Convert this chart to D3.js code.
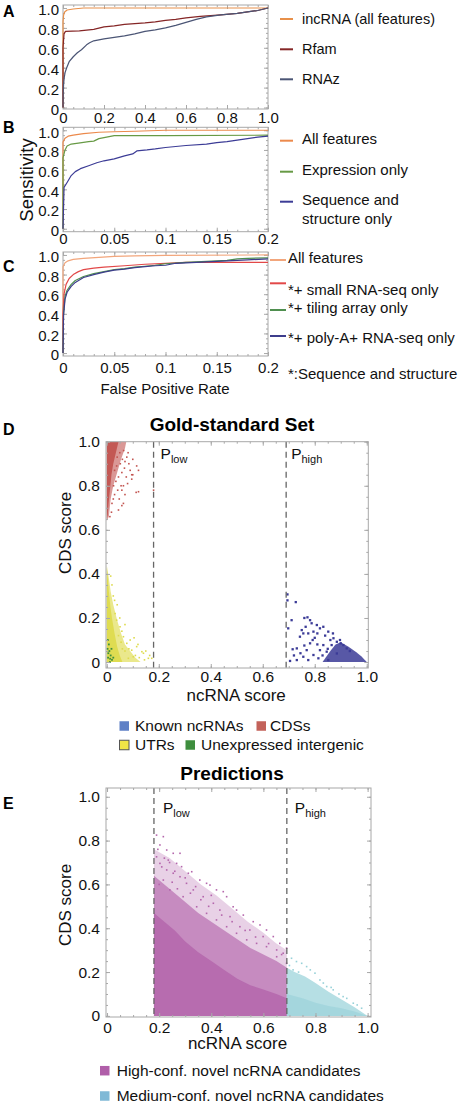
<!DOCTYPE html>
<html><head><meta charset="utf-8">
<script src="https://cdn.jsdelivr.net/npm/d3@7"></script>
<style>
body{margin:0;background:#fff;}
svg{display:block;font-family:"Liberation Sans",Arial,Helvetica,sans-serif;}
</style></head><body>
<svg id="fig" width="465" height="1103"></svg>
<script>
// ---------------- DATA ----------------
const Y_TICKS = [0, 0.2, 0.4, 0.6, 0.8, 1.0];
const Y_LABELS = ["0", "0.2", "0.4", "0.6", "0.8", "1.0"];
const X_TICKS_A = [0, 0.2, 0.4, 0.6, 0.8, 1.0];
const X_LABELS_A = ["0", "0.2", "0.4", "0.6", "0.8", "1.0"];
const X_TICKS_BC = [0, 0.05, 0.1, 0.15, 0.2];
const X_LABELS_BC = ["0", "0.05", "0.1", "0.15", "0.2"];

// Panel A (FPR, sensitivity)
const rocA_incRNA = [[0,0],[0,0.86],[0.003,0.93],[0.008,0.96],[0.02,0.98],[0.05,0.99],[0.1,1.0],[1.0,1.0]];
const rocA_Rfam = [[0,0],[0,0.6],[0.005,0.74],[0.012,0.765],[0.08,0.77],[0.15,0.785],[0.2,0.81],[0.25,0.82],[0.3,0.835],[0.4,0.85],[0.45,0.86],[0.5,0.875],[0.55,0.885],[0.6,0.9],[0.67,0.915],[0.77,0.93],[0.85,0.945],[0.9,0.96],[0.95,0.975],[1.0,1.0]];
const rocA_RNAz = [[0,0],[0.001,0.15],[0.003,0.24],[0.006,0.3],[0.01,0.35],[0.018,0.4],[0.03,0.46],[0.05,0.51],[0.07,0.55],[0.09,0.58],[0.115,0.63],[0.13,0.65],[0.15,0.67],[0.2,0.69],[0.25,0.705],[0.3,0.72],[0.35,0.74],[0.4,0.765],[0.45,0.78],[0.5,0.8],[0.55,0.825],[0.6,0.855],[0.65,0.885],[0.7,0.91],[0.77,0.93],[0.85,0.945],[0.9,0.96],[0.95,0.975],[1.0,1.0]];
const namesA = ["incRNA (all features)", "Rfam", "RNAz"];

// Panel B
const rocB_all = [[0,0],[0,0.88],[0.002,0.92],[0.005,0.94],[0.01,0.95],[0.02,0.965],[0.035,0.98],[0.05,0.985],[0.07,0.99],[0.1,1.0],[0.2,1.0]];
const rocB_expr = [[0,0],[0,0.72],[0.002,0.8],[0.004,0.84],[0.008,0.86],[0.015,0.87],[0.025,0.885],[0.03,0.89],[0.035,0.915],[0.045,0.935],[0.05,0.945],[0.1,0.945],[0.2,0.95]];
const rocB_seq = [[0,0],[0.001,0.42],[0.004,0.47],[0.008,0.54],[0.012,0.58],[0.017,0.61],[0.025,0.64],[0.033,0.67],[0.04,0.69],[0.05,0.71],[0.06,0.74],[0.068,0.76],[0.072,0.79],[0.082,0.8],[0.09,0.81],[0.1,0.825],[0.12,0.845],[0.14,0.86],[0.15,0.875],[0.16,0.885],[0.17,0.9],[0.18,0.915],[0.19,0.93],[0.2,0.94]];
const namesB = [["All features"], ["Expression only"], ["Sequence and", "structure only"]];

// Panel C
const rocC_all = [[0,0],[0,0.88],[0.002,0.92],[0.005,0.94],[0.01,0.955],[0.02,0.965],[0.035,0.975],[0.05,0.985],[0.07,0.99],[0.1,0.995],[0.2,1.0]];
const rocC_small = [[0,0],[0,0.4],[0.001,0.6],[0.003,0.7],[0.006,0.76],[0.01,0.8],[0.015,0.83],[0.02,0.85],[0.03,0.865],[0.04,0.875],[0.06,0.89],[0.08,0.905],[0.1,0.915],[0.12,0.925],[0.2,0.925]];
const rocC_tiling = [[0,0],[0.0005,0.4],[0.002,0.58],[0.004,0.64],[0.008,0.7],[0.012,0.74],[0.02,0.78],[0.03,0.81],[0.04,0.83],[0.05,0.85],[0.06,0.86],[0.07,0.875],[0.08,0.885],[0.09,0.895],[0.1,0.91],[0.12,0.925],[0.14,0.935],[0.16,0.945],[0.17,0.96],[0.18,0.965],[0.2,0.97]];
const rocC_polyA = [[0,0],[0.0005,0.38],[0.002,0.55],[0.004,0.62],[0.008,0.68],[0.012,0.72],[0.02,0.77],[0.03,0.8],[0.04,0.825],[0.05,0.845],[0.06,0.855],[0.07,0.87],[0.08,0.88],[0.09,0.89],[0.1,0.895],[0.11,0.915],[0.12,0.92],[0.14,0.93],[0.16,0.94],[0.18,0.95],[0.2,0.96]];
const namesC = ["All features", "*+ small RNA-seq only", "*+ tiling array only", "*+ poly-A+ RNA-seq only"];
const noteC = "*:Sequence and structure";

// Thresholds
const P_LOW = 0.18, P_HIGH = 0.69;

// Panel D: gold-standard set (ncRNA score, CDS score)
const cdsCore = [[0,0.65],[0.004,0.67],[0.007,0.72],[0.012,0.78],[0.018,0.85],[0.025,0.9],[0.035,0.95],[0.045,1.0],[0,1.0]];
const cdsHalo = [[0,0.64],[0.008,0.66],[0.015,0.74],[0.025,0.8],[0.04,0.86],[0.055,0.92],[0.07,0.97],[0.075,1.0],[0,1.0]];
const cdsPoints = [[0.115,0.89],[0.122,0.87],[0.113,0.77],[0.07,0.76],[0.064,0.72],[0.096,0.83],[0.077,0.93],[0.038,0.89],[0.058,0.86],[0.026,0.8],[0.085,0.9],[0.09,0.87],[0.1,0.85],[0.05,0.95],[0.06,0.92],[0.045,0.84],[0.03,0.76],[0.02,0.72],[0.035,0.82],[0.068,0.88],[0.075,0.84],[0.055,0.8],[0.042,0.78],[0.08,0.81],[0.065,0.96],[0.07,0.91],[0.052,0.9],[0.04,0.93],[0.03,0.87],[0.082,0.95],[0.018,0.68],[0.012,0.66],[0.025,0.74],[0.18,0.78],[0.1,0.92],[0.058,0.78],[0.048,0.74],[0.122,0.773],[0.096,0.85],[0.064,0.8],[0.045,0.69],[0.058,0.71]];
const utrCore = [[0,0.43],[0.004,0.38],[0.008,0.32],[0.014,0.25],[0.02,0.2],[0.03,0.13],[0.04,0.07],[0.05,0.03],[0.06,0],[0,0]];
const utrHalo = [[0,0.44],[0.008,0.38],[0.015,0.32],[0.025,0.26],[0.04,0.19],[0.055,0.13],[0.07,0.08],[0.09,0.05],[0.11,0.02],[0.13,0],[0,0]];
const utrPoints = [[0.064,0.115],[0.077,0.085],[0.096,0.054],[0.115,0.07],[0.135,0.047],[0.141,0.04],[0.16,0.017],[0.173,0.017],[0.102,0.024],[0.083,0.017],[0.051,0.16],[0.038,0.19],[0.058,0.14],[0.07,0.17],[0.032,0.22],[0.045,0.12],[0.055,0.09],[0.09,0.1],[0.11,0.03],[0.125,0.02],[0.15,0.05],[0.07,0.05],[0.06,0.06],[0.085,0.06],[0.04,0.26],[0.025,0.3],[0.02,0.35],[0.015,0.39],[0.05,0.2],[0.03,0.28],[0.12,0.08],[0.105,0.11],[0.145,0.01],[0.165,0.03]];
const unexprPoints = [[0.005,0.02],[0.01,0.05],[0.015,0.03],[0.008,0.08],[0.02,0.01],[0.012,0.0],[0.004,0.1],[0.018,0.06],[0.025,0.02],[0.006,0.04],[0.003,0.06],[0.013,0.015]];
const knownCore = [[0.83,0],[0.86,0.05],[0.88,0.08],[0.9,0.09],[0.93,0.07],[0.96,0.045],[0.98,0.025],[1.0,0]];
const knownPoints = [[0.695,0.307],[0.695,0.28],[0.727,0.272],[0.711,0.19],[0.698,0.153],[0.715,0.058],[0.731,0.062],[0.772,0.203],[0.782,0.19],[0.788,0.176],[0.808,0.168],[0.82,0.153],[0.833,0.16],[0.852,0.138],[0.75,0.145],[0.756,0.13],[0.743,0.115],[0.795,0.138],[0.792,0.1],[0.782,0.085],[0.769,0.054],[0.756,0.024],[0.731,0.009],[0.795,0.032],[0.82,0.054],[0.833,0.077],[0.872,0.108],[0.885,0.092],[0.897,0.1],[0.865,0.077],[0.846,0.047],[0.814,0.017],[0.775,0.009],[0.91,0.077],[0.923,0.062],[0.885,0.039],[0.852,0.009],[0.935,0.05],[0.76,0.2],[0.8,0.11],[0.81,0.08],[0.84,0.12],[0.86,0.1],[0.87,0.13],[0.9,0.085],[0.705,0.005],[0.72,0.03],[0.745,0.04],[0.765,0.16],[0.83,0.03],[0.85,0.06],[0.81,0.13],[0.775,0.13],[0.76,0.075]];
const namesD = ["Known ncRNAs", "CDSs", "UTRs", "Unexpressed intergenic"];

// Panel E: predictions
const highCore = [[0.18,0.47],[0.22,0.43],[0.26,0.39],[0.3,0.34],[0.35,0.29],[0.4,0.25],[0.45,0.21],[0.5,0.17],[0.55,0.14],[0.6,0.12],[0.65,0.1],[0.69,0.08],[0.69,0],[0.18,0]];
const highHalo = [[0.18,0.64],[0.22,0.6],[0.26,0.56],[0.3,0.52],[0.35,0.47],[0.4,0.43],[0.45,0.39],[0.5,0.35],[0.55,0.31],[0.6,0.28],[0.65,0.25],[0.69,0.22],[0.69,0],[0.18,0]];
const highSparse = [[0.18,0.76],[0.24,0.72],[0.3,0.66],[0.36,0.6],[0.42,0.55],[0.48,0.49],[0.54,0.43],[0.6,0.38],[0.65,0.33],[0.69,0.3],[0.69,0],[0.18,0]];
const highPoints = [[0.19,0.825],[0.216,0.818],[0.203,0.78],[0.229,0.757],[0.254,0.742],[0.28,0.742],[0.235,0.711],[0.267,0.696],[0.286,0.681],[0.312,0.651],[0.325,0.658],[0.356,0.62],[0.382,0.605],[0.395,0.597],[0.42,0.575],[0.446,0.567],[0.459,0.544],[0.484,0.498],[0.497,0.483],[0.523,0.46],[0.561,0.43],[0.587,0.415],[0.612,0.392],[0.638,0.362],[0.663,0.331],[0.689,0.309],[0.676,0.286],[0.651,0.301],[0.599,0.362],[0.548,0.392],[0.51,0.407],[0.472,0.453],[0.433,0.483],[0.408,0.514],[0.369,0.544],[0.331,0.575],[0.305,0.605],[0.28,0.635],[0.254,0.651],[0.229,0.666],[0.203,0.696],[0.216,0.62],[0.19,0.726],[0.241,0.575],[0.292,0.544],[0.344,0.498],[0.382,0.468],[0.42,0.438],[0.459,0.407],[0.497,0.377],[0.536,0.347],[0.574,0.331],[0.612,0.316],[0.651,0.27],[0.689,0.24],[0.2,0.6],[0.21,0.68],[0.25,0.61],[0.27,0.58],[0.32,0.56],[0.36,0.53],[0.39,0.5],[0.44,0.46],[0.48,0.43],[0.53,0.39],[0.57,0.36],[0.62,0.33],[0.67,0.28],[0.195,0.76],[0.24,0.7],[0.3,0.63],[0.34,0.59],[0.4,0.55],[0.26,0.66],[0.22,0.72]];
const medDense = [[0.69,0.1],[0.75,0.08],[0.8,0.06],[0.85,0.045],[0.9,0.035],[0.95,0.02],[1.0,0],[0.69,0]];
const medHalo = [[0.69,0.22],[0.72,0.2],[0.76,0.18],[0.8,0.15],[0.85,0.11],[0.9,0.075],[0.95,0.04],[1.0,0],[0.69,0]];
const medPoints = [[0.708,0.263],[0.727,0.248],[0.747,0.24],[0.766,0.225],[0.714,0.21],[0.798,0.195],[0.817,0.164],[0.843,0.134],[0.868,0.119],[0.906,0.088],[0.945,0.058],[0.977,0.035],[0.7,0.23],[0.735,0.2],[0.78,0.21],[0.83,0.15],[0.86,0.13],[0.89,0.1],[0.92,0.08],[0.96,0.05]];
const namesE = ["High-conf. novel ncRNA candidates", "Medium-conf. novel ncRNA candidates"];

// ---------------- DRAWING ----------------
const svg = d3.select("#fig");
const defs = svg.append("defs");
const FRAME = "#a8a8a8";
const TXT = "#111";

function frameAxes(g, x, y, o) {
  const [x0, x1] = x.range(), [y0, y1] = y.range();
  g.append("rect").attr("x", x0).attr("y", y1).attr("width", x1 - x0).attr("height", y0 - y1)
    .attr("fill", "none").attr("stroke", FRAME).attr("stroke-width", 1);
  const style = (sel, fs) => {
    sel.select(".domain").remove();
    sel.selectAll(".tick line").attr("stroke", FRAME);
    sel.selectAll(".tick text").attr("fill", TXT).style("font-size", fs + "px");
  };
  const mk = (axis, tr) => g.append("g").attr("transform", tr).call(axis).call(s => style(s, o.fs));
  mk(d3.axisBottom(x).tickValues(o.xMinor).tickSize(-2).tickFormat(""), `translate(0,${y0})`);
  mk(d3.axisTop(x).tickValues(o.xMinor).tickSize(-2).tickFormat(""), `translate(0,${y1})`);
  mk(d3.axisLeft(y).tickValues(o.yMinor).tickSize(-2).tickFormat(""), `translate(${x0},0)`);
  mk(d3.axisRight(y).tickValues(o.yMinor).tickSize(-2).tickFormat(""), `translate(${x1},0)`);
  mk(d3.axisTop(x).tickValues(o.xTicks).tickSize(-4).tickFormat(""), `translate(0,${y1})`);
  mk(d3.axisRight(y).tickValues(o.yTicks).tickSize(-4).tickFormat(""), `translate(${x1},0)`);
  mk(d3.axisBottom(x).tickValues(o.xTicks).tickSize(-4).tickPadding(o.xPad)
      .tickFormat((d, i) => o.xLabels[i]), `translate(0,${y0})`);
  const yl = mk(d3.axisLeft(y).tickValues(o.yTicks).tickSize(-4).tickPadding(o.yPad)
      .tickFormat((d, i) => o.yLabels[i]), `translate(${x0},0)`);
  if (o.yDy) yl.selectAll(".tick text").attr("dy", o.yDy);
}

function letter(t, x, y) {
  svg.append("text").attr("x", x).attr("y", y).text(t).attr("font-weight", "bold")
    .style("font-size", "16px").attr("fill", "#000");
}

// ---------- ROC panels ----------
function rocPanel(cfg) {
  const g = svg.append("g");
  const x = d3.scaleLinear().domain(cfg.xDomain).range(cfg.xRange);
  const y = d3.scaleLinear().domain(cfg.yDomain).range(cfg.yRange);
  frameAxes(g, x, y, {
    xTicks: cfg.xTicks, xLabels: cfg.xLabels, yTicks: Y_TICKS, yLabels: Y_LABELS,
    xMinor: cfg.xMinor, yMinor: d3.range(0, 1.001, 0.05), fs: 15, xPad: cfg.xPad, yPad: 4, yDy: "0.45em"
  });
  const line = d3.line().x(d => x(d[0])).y(d => y(d[1]));
  cfg.series.forEach((s, i) => {
    g.append("path").datum(s).attr("d", line).attr("fill", "none")
      .attr("stroke", cfg.colors[i]).attr("stroke-width", 1.2).attr("stroke-linejoin", "round");
  });
  cfg.legend.forEach((it, i) => {
    g.append("line").attr("x1", cfg.swX[0]).attr("x2", cfg.swX[1]).attr("y1", it.sy).attr("y2", it.sy)
      .attr("stroke", cfg.colors[i]).attr("stroke-width", 2);
    const lines = Array.isArray(cfg.names[i]) ? cfg.names[i] : [cfg.names[i]];
    lines.forEach((tx, j) => {
      g.append("text").attr("x", cfg.txX).attr("y", it.ty[j]).attr("dy", "0.35em").text(tx)
        .style("font-size", cfg.lfs + "px").attr("fill", TXT);
    });
  });
  return g;
}

rocPanel({
  xDomain: [0, 1], xRange: [63, 268], yDomain: [-0.015, 1.03], yRange: [109, 5],
  xTicks: X_TICKS_A, xLabels: X_LABELS_A, xMinor: d3.range(0, 1.001, 0.05), xPad: 3,
  series: [rocA_incRNA, rocA_Rfam, rocA_RNAz], colors: ["#e8904a", "#852626", "#4b5575"],
  names: namesA, swX: [280, 293], txX: 302, lfs: 14.5,
  legend: [{sy: 19, ty: [18.7]}, {sy: 49.3, ty: [49]}, {sy: 79.3, ty: [79]}]
});
letter("A", 3, 17);

rocPanel({
  xDomain: [0, 0.2], xRange: [63, 268], yDomain: [-0.03, 1.03], yRange: [231.7, 127.3],
  xTicks: X_TICKS_BC, xLabels: X_LABELS_BC, xMinor: d3.range(0, 0.2001, 0.01), xPad: 2,
  series: [rocB_all, rocB_expr, rocB_seq], colors: ["#ec8a4c", "#679a45", "#3c3c96"],
  names: namesB, swX: [280, 293], txX: 302, lfs: 15,
  legend: [{sy: 140.7, ty: [139]}, {sy: 171.7, ty: [170]}, {sy: 201.7, ty: [199.3, 218.7]}]
});
letter("B", 3, 133);
svg.append("text").attr("transform", "translate(27,180) rotate(-90)").attr("text-anchor", "middle")
  .attr("dy", "0.35em").text("Sensitivity").style("font-size", "18.5px").attr("fill", TXT);

const gC = rocPanel({
  xDomain: [0, 0.2], xRange: [63, 268], yDomain: [-0.03, 1.03], yRange: [356, 252],
  xTicks: X_TICKS_BC, xLabels: X_LABELS_BC, xMinor: d3.range(0, 0.2001, 0.01), xPad: 6,
  series: [rocC_all, rocC_small, rocC_tiling, rocC_polyA], colors: ["#f2a67c", "#e24848", "#4f8f4f", "#3d3d8c"],
  names: namesC, swX: [270, 286], txX: 288, lfs: 15,
  legend: [{sy: 260, ty: [257.3]}, {sy: 283.3, ty: [289.3]}, {sy: 310, ty: [307.3]}, {sy: 336, ty: [337.3]}]
});
gC.append("text").attr("x", 288).attr("y", 374).attr("dy", "0.35em").text(noteC)
  .style("font-size", "15px").attr("fill", TXT);
letter("C", 3, 272);
svg.append("text").attr("x", 165).attr("y", 388.5).attr("dy", "0.35em").attr("text-anchor", "middle")
  .text("False Positive Rate").style("font-size", "15px").attr("fill", TXT);

// ---------- Scatter panels ----------
function scatterPanel(cfg) {
  const g = svg.append("g");
  const x = d3.scaleLinear().domain(cfg.xDomain).range(cfg.xRange);
  const y = d3.scaleLinear().domain(cfg.yDomain).range(cfg.yRange);
  const poly = d3.line().x(d => x(d[0])).y(d => y(d[1])).curve(d3.curveLinearClosed);
  const clip = cfg.id + "clip";
  defs.append("clipPath").attr("id", clip).append("rect")
    .attr("x", cfg.xRange[0]).attr("y", cfg.yRange[1])
    .attr("width", cfg.xRange[1] - cfg.xRange[0]).attr("height", cfg.yRange[0] - cfg.yRange[1]);
  const pg = g.append("g").attr("clip-path", `url(#${clip})`);
  cfg.layers.forEach(L => {
    if (L.poly) pg.append("path").datum(L.poly).attr("d", poly).attr("fill", L.fill)
      .attr("fill-opacity", L.op == null ? 1 : L.op);
    if (L.pts) pg.selectAll(null).data(L.pts).join("rect")
      .attr("x", d => x(d[0]) - L.s / 2).attr("y", d => y(d[1]) - L.s / 2)
      .attr("width", L.s).attr("height", L.s).attr("fill", L.fill);
  });
  [P_LOW, P_HIGH].forEach(v => {
    g.append("line").attr("x1", x(v)).attr("x2", x(v)).attr("y1", cfg.yRange[1]).attr("y2", cfg.yRange[0])
      .attr("stroke", "#666").attr("stroke-width", 1.3).attr("stroke-dasharray", "6,4");
  });
  [["low", P_LOW, cfg.pOff[0]], ["high", P_HIGH, cfg.pOff[1]]].forEach(([sub, v, off]) => {
    const t = g.append("text").attr("x", x(v) + off).attr("y", cfg.pY).attr("fill", TXT).style("font-size", "15.5px");
    t.append("tspan").text("P");
    t.append("tspan").attr("dy", 4).style("font-size", "11px").text(sub);
  });
  frameAxes(g, x, y, {
    xTicks: X_TICKS_A, xLabels: X_LABELS_A, yTicks: Y_TICKS, yLabels: Y_LABELS,
    xMinor: d3.range(0, 1.001, 0.05), yMinor: d3.range(0, 1.001, 0.05), fs: 15.5, xPad: cfg.xPad, yPad: 6
  });
  g.append("text").attr("x", (cfg.xRange[0] + cfg.xRange[1]) / 2 - 1).attr("y", cfg.xLabY).attr("dy", "0.35em")
    .attr("text-anchor", "middle").text("ncRNA score").style("font-size", "17px").attr("fill", TXT);
  g.append("text").attr("transform", `translate(65,${cfg.yLabY}) rotate(-90)`).attr("text-anchor", "middle")
    .attr("dy", "0.35em").text("CDS score").style("font-size", "17px").attr("fill", TXT);
  g.append("text").attr("x", 232).attr("y", cfg.titleY).attr("text-anchor", "middle")
    .attr("font-weight", "bold").style("font-size", "19px").attr("fill", "#000").text(cfg.title);
  cfg.legend.forEach(it => {
    g.append("rect").attr("x", it.sx).attr("y", it.y - 4.75).attr("width", 9.5).attr("height", 9.5)
      .attr("fill", it.color).attr("stroke", it.stroke || "none").attr("stroke-width", 1);
    g.append("text").attr("x", it.tx).attr("y", it.y).attr("dy", "0.35em").text(it.name)
      .style("font-size", "15.5px").attr("fill", TXT);
  });
}

scatterPanel({
  id: "D", title: "Gold-standard Set", titleY: 430.5,
  xDomain: [-0.003, 1.006], xRange: [106, 368.3], yDomain: [-0.027, 1.0], yRange: [668, 441.7],
  pY: 459.3, pOff: [7, 5], xPad: 3, xLabY: 695, yLabY: 533,
  layers: [
    {poly: cdsHalo, fill: "#c25450", op: 0.6}, {poly: cdsCore, fill: "#c25450", op: 0.95},
    {pts: cdsPoints, fill: "#c25450", s: 1.6},
    {poly: utrHalo, fill: "#dedb4e", op: 0.65}, {poly: utrCore, fill: "#dedb4e", op: 0.95},
    {pts: utrPoints, fill: "#dedb4e", s: 1.6},
    {pts: unexprPoints, fill: "#3e8e3e", s: 1.8},
    {poly: knownCore, fill: "#3b3b97", op: 0.85},
    {pts: knownPoints, fill: "#3b3b97", s: 2.3}
  ],
  legend: [
    {name: namesD[0], color: "#5f80c6", sx: 119.5, tx: 135, y: 726},
    {name: namesD[1], color: "#c3625a", sx: 256.5, tx: 270, y: 726},
    {name: namesD[2], color: "#f1e446", stroke: "#555", sx: 119.5, tx: 135, y: 745},
    {name: namesD[3], color: "#3e8e3e", sx: 185.5, tx: 201, y: 745}
  ]
});
letter("D", 3, 435);

scatterPanel({
  id: "E", title: "Predictions", titleY: 780,
  xDomain: [-0.004, 1.013], xRange: [106, 371], yDomain: [-0.005, 1.04], yRange: [1017, 788],
  pY: 812.7, pOff: [9, 8], xPad: 4.5, xLabY: 1043.3, yLabY: 905,
  layers: [
    {poly: highSparse, fill: "#b466ac", op: 0.3},
    {poly: highHalo, fill: "#b466ac", op: 0.65}, {poly: highCore, fill: "#b466ac", op: 0.85},
    {pts: highPoints, fill: "#b466ac", s: 1.6},
    {poly: medHalo, fill: "#97d1d8", op: 0.7}, {poly: medDense, fill: "#97d1d8", op: 0.6},
    {pts: medPoints, fill: "#97d1d8", s: 1.6}
  ],
  legend: [
    {name: namesE[0], color: "#b05ea9", sx: 100, tx: 116.7, y: 1070.7},
    {name: namesE[1], color: "#80b9d6", sx: 100, tx: 116.7, y: 1096}
  ]
});
letter("E", 3, 809);
</script>
</body></html>
